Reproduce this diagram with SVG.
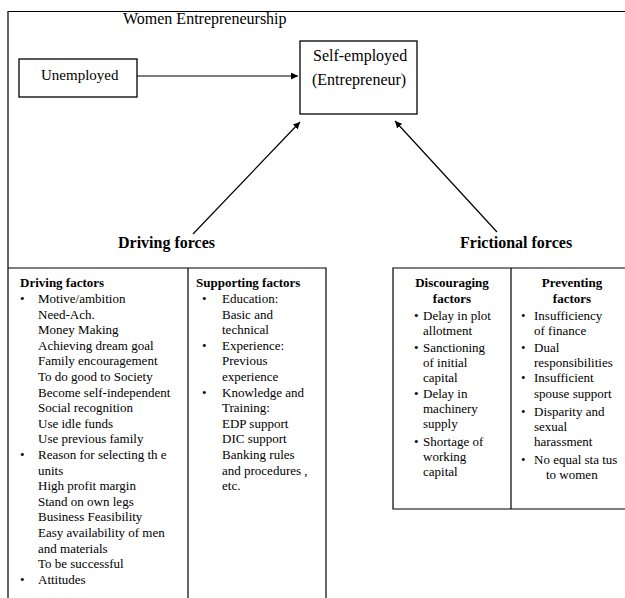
<svg xmlns="http://www.w3.org/2000/svg" width="625" height="598" viewBox="0 0 625 598">
<style>
text{font-family:"Liberation Serif","Times New Roman",serif;fill:#000}
.t{font-size:15px}
.t16{font-size:16px}
.h{font-size:16px;font-weight:bold}
.s{font-size:13px}
.b{font-size:13px;font-weight:bold}
.box{fill:#fff;stroke:#000;stroke-width:1.3}
.ln{fill:none;stroke:#000;stroke-width:1.2}
.c{stroke:#000;stroke-width:1.2;fill:none;marker-end:url(#ah)}
</style>
<defs>
<marker id="ah" viewBox="0 0 10 10" refX="10" refY="5" markerWidth="7" markerHeight="7" markerUnits="userSpaceOnUse" orient="auto"><path d="M0,0L10,5L0,10z" fill="#000"/></marker>
</defs>
<g id="frame">
<path class="ln" d="M8,598V11.5H625"/>
<text class="t16" x="123" y="24">Women Entrepreneurship</text>
</g>
<g id="unemployed">
<rect class="box" x="19" y="59" width="118" height="38"/>
<text class="t" x="41" y="80">Unemployed</text>
</g>
<g id="self-employed">
<rect class="box" x="300" y="41" width="117" height="73"/>
<text class="t16" x="313" y="61">Self-employed</text>
<text class="t16" x="312" y="85">(Entrepreneur)</text>
</g>
<g id="driving-forces">
<text class="h" x="118" y="248">Driving forces</text>
</g>
<g id="frictional-forces">
<text class="h" x="460" y="248">Frictional forces</text>
</g>
<g id="connectors">
<line class="c" x1="137" y1="76" x2="298" y2="76"/>
<line class="c" x1="193" y1="234" x2="300" y2="122"/>
<line class="c" x1="497" y1="232" x2="395" y2="121"/>
</g>
<g id="driving-table">
<path class="ln" d="M8,268H326V598M188,268V598"/>
<g class="s">
<text class="b" x="20" y="287">Driving factors</text>
<text x="20" y="303">•</text><text x="38" y="303">Motive/ambition</text>
<text x="38" y="318.5">Need-Ach.</text>
<text x="38" y="334">Money Making</text>
<text x="38" y="349.5">Achieving dream goal</text>
<text x="38" y="365">Family encouragement</text>
<text x="38" y="381">To do good to Society</text>
<text x="38" y="396.5">Become self-independent</text>
<text x="38" y="412">Social recognition</text>
<text x="38" y="427.5">Use idle funds</text>
<text x="38" y="443">Use previous family</text>
<text x="20" y="459">•</text><text x="38" y="459">Reason for selecting th e</text>
<text x="38" y="474.5">units</text>
<text x="38" y="490">High profit margin</text>
<text x="38" y="505.5">Stand on own legs</text>
<text x="38" y="521">Business Feasibility</text>
<text x="38" y="537">Easy availability of  men</text>
<text x="38" y="552.5">and materials</text>
<text x="38" y="568">To be successful</text>
<text x="20" y="583.5">•</text><text x="38" y="583.5">Attitudes</text>
<text class="b" x="196" y="287">Supporting factors</text>
<text x="202" y="303">•</text><text x="222" y="303">Education:</text>
<text x="222" y="318.5">Basic and</text>
<text x="222" y="334">technical</text>
<text x="202" y="349.5">•</text><text x="222" y="349.5">Experience:</text>
<text x="222" y="365">Previous</text>
<text x="222" y="381">experience</text>
<text x="202" y="396.5">•</text><text x="222" y="396.5">Knowledge  and</text>
<text x="222" y="412">Training:</text>
<text x="222" y="427.5">EDP support</text>
<text x="222" y="443">DIC support</text>
<text x="222" y="459">Banking rules</text>
<text x="222" y="474.5">and procedures ,</text>
<text x="222" y="490">etc.</text>
</g>
</g>
<g id="frictional-table">
<path class="ln" d="M625,268H393V509H625M511,268V509"/>
<g class="s">
<text class="b" x="452" y="287" text-anchor="middle">Discouraging</text>
<text class="b" x="452" y="303" text-anchor="middle">factors</text>
<text x="414" y="319.5">•</text><text x="423" y="319.5">Delay in plot</text>
<text x="423" y="335">allotment</text>
<text x="414" y="352">•</text><text x="423" y="352">Sanctioning</text>
<text x="423" y="367">of initial</text>
<text x="423" y="382">capital</text>
<text x="414" y="398">•</text><text x="423" y="398">Delay in</text>
<text x="423" y="413">machinery</text>
<text x="423" y="428">supply</text>
<text x="414" y="446">•</text><text x="423" y="446">Shortage of</text>
<text x="423" y="461">working</text>
<text x="423" y="476">capital</text>
<text class="b" x="572" y="287" text-anchor="middle">Preventing</text>
<text class="b" x="572" y="303" text-anchor="middle">factors</text>
<text x="521" y="319.5">•</text><text x="534" y="319.5">Insufficiency</text>
<text x="534" y="335">of finance</text>
<text x="521" y="352">•</text><text x="534" y="352">Dual</text>
<text x="534" y="367">responsibilities</text>
<text x="521" y="382">•</text><text x="534" y="382">Insufficient</text>
<text x="534" y="398">spouse support</text>
<text x="521" y="416">•</text><text x="534" y="416">Disparity and</text>
<text x="534" y="431">sexual</text>
<text x="534" y="446">harassment</text>
<text x="521" y="464">•</text><text x="534" y="464">No equal sta tus</text>
<text x="546" y="479">to women</text>
</g>
</g>
</svg>
